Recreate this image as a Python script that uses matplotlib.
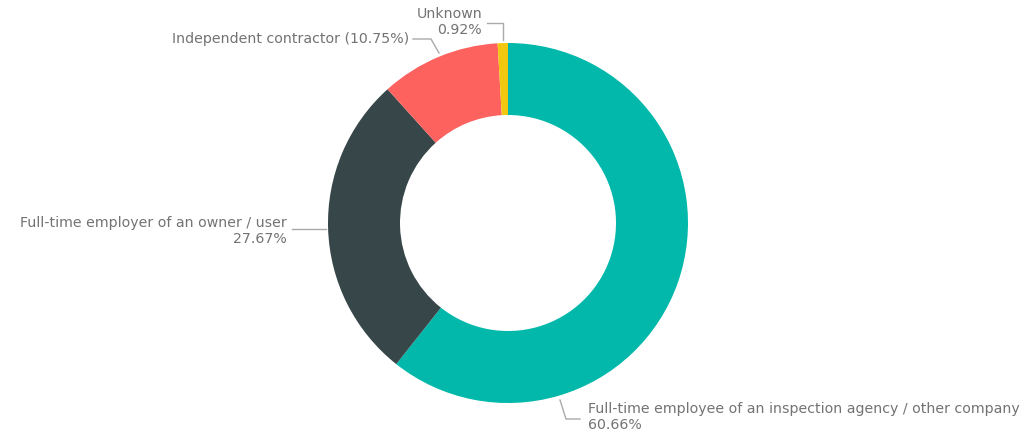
import matplotlib.pyplot as plt

# --- DATA ---
labels = ["Full-time employee of an inspection agency / other company",
          "Full-time employer of an owner / user",
          "Independent contractor",
          "Unknown"]
shares = [60.66, 27.67, 10.75, 0.92]
colors = ["#01B8AA", "#374649", "#FD625E", "#F2C80F"]

W, H = 1028, 438
TXT = "#737373"
LINE = "#AAAAAA"
plt.rcParams["font.family"] = ["DejaVu Sans"]

fig = plt.figure(figsize=(W / 100, H / 100), dpi=100)
ax = fig.add_axes([0, 0, 1, 1])


def py(y):
    # image row -> plot y
    return H - y


cx, cy, r = 508, py(223), 180
ax.pie(shares, colors=colors, startangle=90, counterclock=False,
       radius=r, center=(cx, cy), frame=True,
       wedgeprops=dict(width=r * 0.4, linewidth=0))
ax.set_xlim(0, W)
ax.set_ylim(0, H)
ax.set_aspect("equal")
ax.axis("off")

fs = 10.2

# leader lines + labels
# Unknown
ax.plot([487, 503, 503], [py(23), py(23), py(40)], color=LINE, lw=1)
ax.text(482, py(22), f"{labels[3]}\n{shares[3]:.2f}%", ha="right", va="center",
        color=TXT, fontsize=fs, linespacing=1.2)

# Independent contractor
ax.plot([413, 431, 439], [py(39), py(39), py(53)], color=LINE, lw=1)
ax.text(409, py(39), f"{labels[2]} ({shares[2]:.2f}%)", ha="right", va="center",
        color=TXT, fontsize=fs)

# Full-time employer
ax.plot([292, 326], [py(229), py(229)], color=LINE, lw=1)
ax.text(287, py(231), f"{labels[1]}\n{shares[1]:.2f}%", ha="right", va="center",
        color=TXT, fontsize=fs, linespacing=1.2, multialignment="right")

# Full-time employee
ax.plot([560, 566, 580], [py(400), py(419), py(419)], color=LINE, lw=1)
ax.text(588, py(417), f"{labels[0]}\n{shares[0]:.2f}%", ha="left", va="center",
        color=TXT, fontsize=fs, linespacing=1.2)

fig.savefig("out.png", dpi=100)
